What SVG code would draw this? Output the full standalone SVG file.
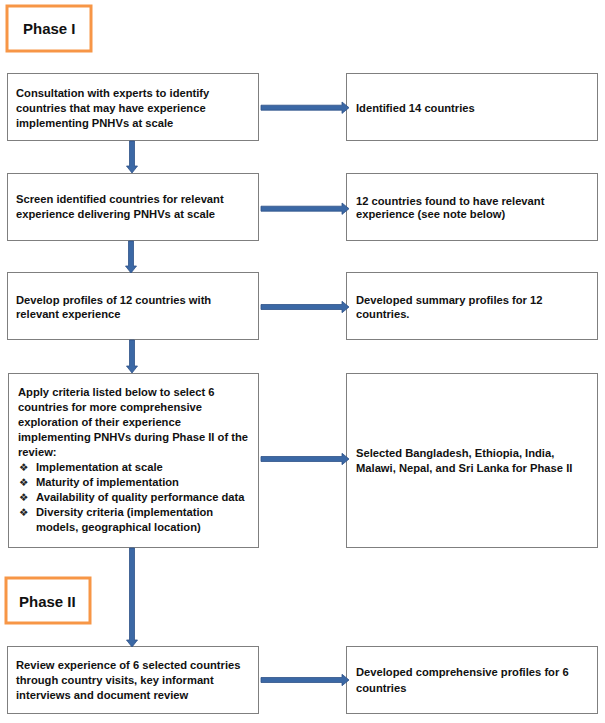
<svg xmlns="http://www.w3.org/2000/svg" width="605" height="723" viewBox="0 0 605 723">
<style>
.box{fill:#fff;stroke:#7f7f7f;stroke-width:1}
.phase{fill:#fff;stroke:#F79646;stroke-width:3}
.t{font-family:"Liberation Sans",Arial,sans-serif;font-weight:bold;font-size:11.2px;fill:#111}
.b{font-family:"DejaVu Sans",sans-serif;font-size:10.5px;fill:#222}
.ph{font-family:"Liberation Sans",Arial,sans-serif;font-weight:bold;font-size:15px;fill:#111}
.arr{fill:#3B68A5;stroke:#2E5288;stroke-width:0.8}
</style>
<rect width="605" height="723" fill="#fff"/>
<g id="phase1"><rect class="phase" x="7" y="6" width="84" height="45"/><text class="ph" x="23" y="34">Phase I</text></g>
<g id="n1"><rect class="box" x="7.5" y="73.5" width="251" height="67"/>
<text class="t"><tspan x="16" y="96.5">Consultation with experts to identify</tspan><tspan x="16" y="111.5">countries that may have experience</tspan><tspan x="16" y="126.5">implementing PNHVs at scale</tspan></text></g>
<g id="r1"><rect class="box" x="346.5" y="73.5" width="251" height="67"/>
<text class="t"><tspan x="356" y="111.5">Identified 14 countries</tspan></text></g>
<g id="n2"><rect class="box" x="7.5" y="173.5" width="251" height="67"/>
<text class="t"><tspan x="16" y="203">Screen identified countries for relevant</tspan><tspan x="16" y="218">experience delivering PNHVs at scale</tspan></text></g>
<g id="r2"><rect class="box" x="346.5" y="173.5" width="251" height="67"/>
<text class="t"><tspan x="356" y="204.5">12 countries found to have relevant</tspan><tspan x="356" y="218">experience (see note below)</tspan></text></g>
<g id="n3"><rect class="box" x="7.5" y="272.5" width="251" height="67"/>
<text class="t"><tspan x="16" y="304">Develop profiles of 12 countries with</tspan><tspan x="16" y="318">relevant experience</tspan></text></g>
<g id="r3"><rect class="box" x="346.5" y="272.5" width="251" height="67"/>
<text class="t"><tspan x="356" y="304">Developed summary profiles for 12</tspan><tspan x="356" y="318">countries.</tspan></text></g>
<g id="n4"><rect class="box" x="8.5" y="373.5" width="250" height="174"/>
<text class="t"><tspan x="18" y="396">Apply criteria listed below to select 6</tspan><tspan x="18" y="411">countries for more comprehensive</tspan><tspan x="18" y="426">exploration of their experience</tspan><tspan x="18" y="441">implementing PNHVs during Phase II of the</tspan><tspan x="18" y="456">review:</tspan></text>
<text class="b"><tspan x="19" y="470.5">❖</tspan><tspan x="19" y="485.5">❖</tspan><tspan x="19" y="500.5">❖</tspan><tspan x="19" y="515.5">❖</tspan></text>
<text class="t"><tspan x="36" y="471">Implementation at scale</tspan><tspan x="36" y="486">Maturity of implementation</tspan><tspan x="36" y="501">Availability of quality performance data</tspan><tspan x="36" y="516">Diversity criteria (implementation</tspan><tspan x="36" y="531">models, geographical location)</tspan></text></g>
<g id="r4"><rect class="box" x="346.5" y="373.5" width="251" height="174"/>
<text class="t"><tspan x="356" y="457">Selected Bangladesh, Ethiopia, India,</tspan><tspan x="356" y="472">Malawi, Nepal, and Sri Lanka for Phase II</tspan></text></g>
<g id="phase2"><rect class="phase" x="6" y="578" width="84" height="45"/><text class="ph" x="19" y="607">Phase II</text></g>
<g id="n5"><rect class="box" x="7.5" y="646.5" width="251" height="67"/>
<text class="t"><tspan x="16" y="669">Review experience of 6 selected countries</tspan><tspan x="16" y="684">through country visits, key informant</tspan><tspan x="16" y="699">interviews and document review</tspan></text></g>
<g id="r5"><rect class="box" x="346.5" y="646.5" width="251" height="67"/>
<text class="t"><tspan x="356" y="676">Developed comprehensive profiles for 6</tspan><tspan x="356" y="692">countries</tspan></text></g>
<g id="connectors">
<path class="arr" d="M261,105.2 H342 V102 L349,107.7 L342,113.4 V110.2 H261 Z"/>
<path class="arr" d="M261,206.2 H342 V203 L349,208.7 L342,214.4 V211.2 H261 Z"/>
<path class="arr" d="M261,304.5 H342 V301.3 L349,307 L342,312.7 V309.5 H261 Z"/>
<path class="arr" d="M261,456.5 H342 V453.3 L349,459 L342,464.7 V461.5 H261 Z"/>
<path class="arr" d="M261,677.5 H342 V674.3 L349,680 L342,685.7 V682.5 H261 Z"/>
<path class="arr" d="M129.5,141 V166 H126.5 L132,173 L137.5,166 H134.5 V141 Z"/>
<path class="arr" d="M128.5,241 V266 H125.5 L131,273 L136.5,266 H133.5 V241 Z"/>
<path class="arr" d="M129.5,340 V366 H126.5 L132,373 L137.5,366 H134.5 V340 Z"/>
<path class="arr" d="M129.5,548 V640 H126.5 L132,647 L137.5,640 H134.5 V548 Z"/>
</g>
</svg>
